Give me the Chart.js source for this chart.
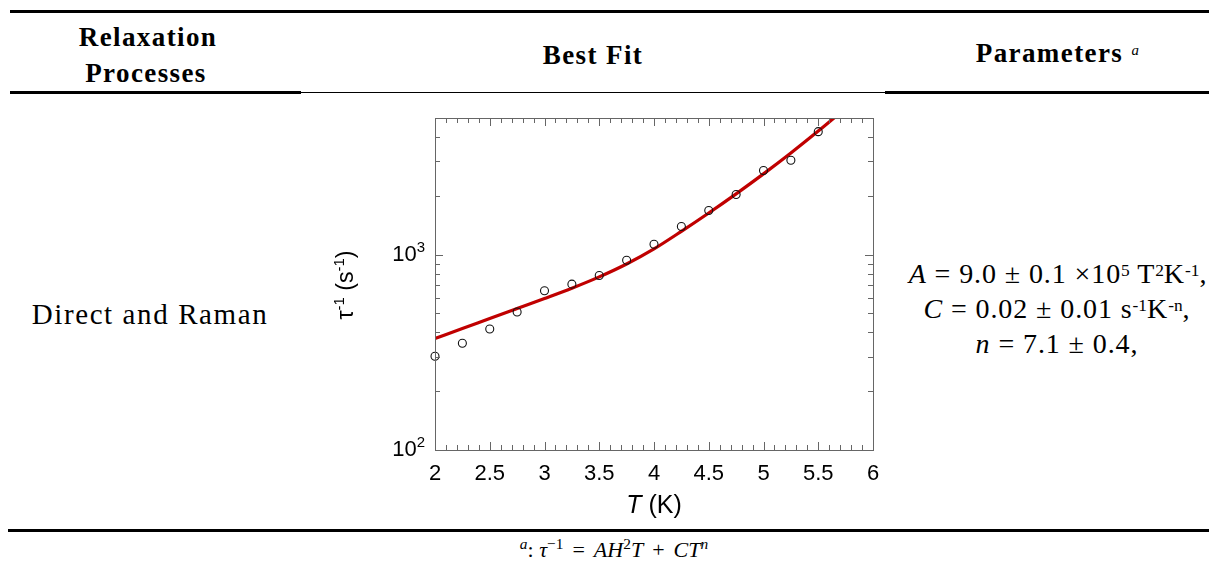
<!DOCTYPE html>
<html>
<head>
<meta charset="utf-8">
<script src="https://cdn.jsdelivr.net/npm/chart.js@4"></script>
<style>
  html, body { margin: 0; padding: 0; background: #fff; }
  body { width: 1209px; height: 563px; position: relative; overflow: hidden; }
  .t { position: absolute; white-space: nowrap; line-height: 1; color: #000;
       font-family: "Liberation Serif", "Times New Roman", serif; }
  .c { transform: translateX(-50%); }
  .hd { font-weight: bold; font-size: 27px; letter-spacing: 1.4px; }
  .bd { font-size: 28px; letter-spacing: 0.9px; }
  .bd sup { font-size: 0.62em; vertical-align: 0.42em; line-height: 0; letter-spacing: 0; }
  .big { font-size: 29px; letter-spacing: 1.6px; }
  .rule { position: absolute; background: #000; }
  #box { position: absolute; left: 320px; top: 100px; width: 580px; height: 430px; }
  .fn { font-size: 22px; font-style: italic; }
  .fn sup { font-size: 0.7em; vertical-align: 0.55em; line-height: 0; }
  .up { font-style: normal; }
  .op { font-style: normal; display: inline-block; margin: 0 9px; }
</style>
</head>
<body>

<!-- table rules -->
<div class="rule" style="left:10px; top:10px; width:1199px; height:3px;"></div>
<div class="rule" style="left:10px; top:91px; width:291px; height:3px;"></div>
<div class="rule" style="left:301px; top:92px; width:584px; height:1px;"></div>
<div class="rule" style="left:885px; top:91px; width:324px; height:3px;"></div>
<div class="rule" style="left:8px; top:529px; width:1201px; height:3px;"></div>

<!-- header -->
<div class="t c hd" style="left:148px; top:24px;">Relaxation</div>
<div class="t c hd" style="left:146px; top:60px;">Processes</div>
<div class="t c hd" style="left:593px; top:42px;">Best Fit</div>
<div class="t c hd" style="left:1058px; top:40px;">Parameters <sup style="font-size:0.55em; vertical-align:0.5em; line-height:0; font-style:italic; font-weight:normal;">a</sup></div>

<!-- body -->
<div class="t c big" style="left:150px; top:300px;">Direct and Raman</div>
<div class="t c bd" style="left:1058px; top:260px;"><i>A</i> = 9.0 ± 0.1 ×10<sup>5</sup> T<sup>2</sup>K<sup>-1</sup>,</div>
<div class="t c bd" style="left:1057px; top:295px;"><i>C</i> = 0.02 ± 0.01 s<sup>-1</sup>K<sup>-n</sup>,</div>
<div class="t c bd" style="left:1057px; top:330px;"><i>n</i> = 7.1 ± 0.4,</div>

<!-- footnote -->
<div class="t c fn" style="left:614px; top:539px;"><sup>a</sup><span class="up">:</span>&nbsp;τ<sup class="up">−1</sup><span class="op">=</span>AH<sup class="up">2</sup>T<span class="op">+</span>CT<sup>n</sup></div>

<div id="box"><canvas id="chart" width="580" height="430"></canvas></div>

<script>
/* measured relaxation rates */
const temps = [2, 2.25, 2.5, 2.75, 3, 3.25, 3.5, 3.75, 4, 4.25, 4.5, 4.75, 5, 5.25, 5.5];
const rates = [302, 352, 416, 508, 653, 706, 782, 935, 1129, 1393, 1682, 2031, 2694, 3040, 4256];

/* best fit curve */
const fitTemps = [2, 2.25, 2.5, 2.75, 3, 3.25, 3.5, 3.75, 4, 4.25, 4.5, 4.75, 5, 5.25, 5.5, 5.75];
const fitRates = [372, 418, 471, 530, 596, 673, 769, 895, 1069, 1315, 1633, 2046, 2588, 3311, 4285, 5610];

/* ticks */
const xTicks = [2, 2.5, 3, 3.5, 4, 4.5, 5, 5.5, 6];
const yMajor = [100, 1000];
const yMajorExp = ['2', '3'];
const yMinor = [200, 300, 400, 500, 600, 700, 800, 900, 2000, 3000, 4000, 5000];

const AXIS_FONT = '"Liberation Sans", Arial, sans-serif';
const FRAME = '#666';

/* draws text pieces with raised exponents, anchored by align */
function richText(ctx, parts, x, y, align) {
    let w = 0;
    parts.forEach(p => {
        ctx.font = (p.italic ? 'italic ' : '') + p.size + 'px ' + AXIS_FONT;
        p.w = ctx.measureText(p.t).width;
        w += p.w;
    });
    let cx = align === 'right' ? x - w : x - w / 2;
    parts.forEach(p => {
        ctx.font = (p.italic ? 'italic ' : '') + p.size + 'px ' + AXIS_FONT;
        ctx.fillText(p.t, cx, y - (p.rise || 0));
        cx += p.w;
    });
}

const frameTicks = {
    id: 'frameTicks',
    afterDraw(chart) {
        const ctx = chart.ctx;
        const a = chart.chartArea;
        const xs = chart.scales.x;
        const ys = chart.scales.y;
        ctx.save();
        ctx.strokeStyle = FRAME;
        ctx.lineWidth = 1;
        ctx.strokeRect(Math.round(a.left) + 0.5, Math.round(a.top) + 0.5,
                       Math.round(a.right - a.left), Math.round(a.bottom - a.top));

        ctx.beginPath();
        /* x ticks every 0.1, longer on the labelled ones */
        for (let i = 1; i < 40; i++) {
            const v = 2 + i / 10;
            const px = Math.round(xs.getPixelForValue(v)) + 0.5;
            const len = (i % 5 === 0) ? 8 : 5;
            ctx.moveTo(px, a.bottom); ctx.lineTo(px, a.bottom - len);
            ctx.moveTo(px, a.top); ctx.lineTo(px, a.top + len);
        }
        yMajor.concat(yMinor).forEach(v => {
            if (v <= ys.min || v >= ys.max) return;
            const py = Math.round(ys.getPixelForValue(v)) + 0.5;
            const len = yMajor.includes(v) ? 8 : 5;
            ctx.moveTo(a.left, py); ctx.lineTo(a.left + len, py);
            ctx.moveTo(a.right, py); ctx.lineTo(a.right - len, py);
        });
        ctx.stroke();

        ctx.fillStyle = '#000';
        ctx.textBaseline = 'alphabetic';
        ctx.textAlign = 'left';

        /* y labels 10^n */
        yMajor.forEach((v, k) => {
            const py = ys.getPixelForValue(v);
            richText(ctx, [
                {t: '10', size: 22},
                {t: yMajorExp[k], size: 15, rise: 9}
            ], a.left - 10, py + 6, 'right');
        });

        /* axis titles */
        richText(ctx, [
            {t: 'T', size: 25, italic: true},
            {t: ' (K)', size: 25}
        ], (a.left + a.right) / 2, 413);

        ctx.translate(33, 185);
        ctx.rotate(-Math.PI / 2);
        richText(ctx, [
            {t: 'τ', size: 23},
            {t: '-1', size: 15, rise: 9},
            {t: ' (s', size: 23},
            {t: '-1', size: 15, rise: 9},
            {t: ')', size: 23}
        ], 0, 0);
        ctx.restore();
    }
};

try {
    new Chart(document.getElementById('chart').getContext('2d'), {
        data: {
            datasets: [{
                type: 'scatter',
                order: 0,
                data: temps.map((t, i) => ({x: t, y: rates[i]})),
                pointStyle: 'circle',
                pointRadius: 4,
                borderColor: '#111',
                backgroundColor: 'rgba(0,0,0,0)',
                borderWidth: 1.1,
                clip: false
            }, {
                type: 'line',
                order: 1,
                data: fitTemps.map((t, i) => ({x: t, y: fitRates[i]})),
                borderColor: '#c00000',
                borderWidth: 3.2,
                pointRadius: 0,
                cubicInterpolationMode: 'monotone',
                clip: 0
            }]
        },
        options: {
            responsive: false,
            animation: false,
            events: [],
            layout: {padding: {left: 0, right: 27, top: 18, bottom: 0}},
            plugins: {legend: {display: false}, tooltip: {enabled: false}},
            scales: {
                x: {
                    type: 'linear',
                    min: 2,
                    max: 6,
                    afterFit: s => { s.height = 80; },
                    afterBuildTicks: s => { s.ticks = xTicks.map(v => ({value: v})); },
                    grid: {display: false},
                    border: {display: false},
                    ticks: {
                        padding: 3,
                        color: '#000',
                        maxRotation: 0,
                        autoSkip: false,
                        font: {family: AXIS_FONT, size: 22},
                        callback: v => String(v)
                    }
                },
                y: {
                    type: 'logarithmic',
                    min: 100,
                    max: 5000,
                    afterFit: s => { s.width = 115; },
                    grid: {display: false},
                    border: {display: false},
                    ticks: {display: false}
                }
            }
        },
        plugins: [frameTicks]
    });
} catch (e) {
    console.error(e.stack);
    throw e;
}
</script>
</body>
</html>
